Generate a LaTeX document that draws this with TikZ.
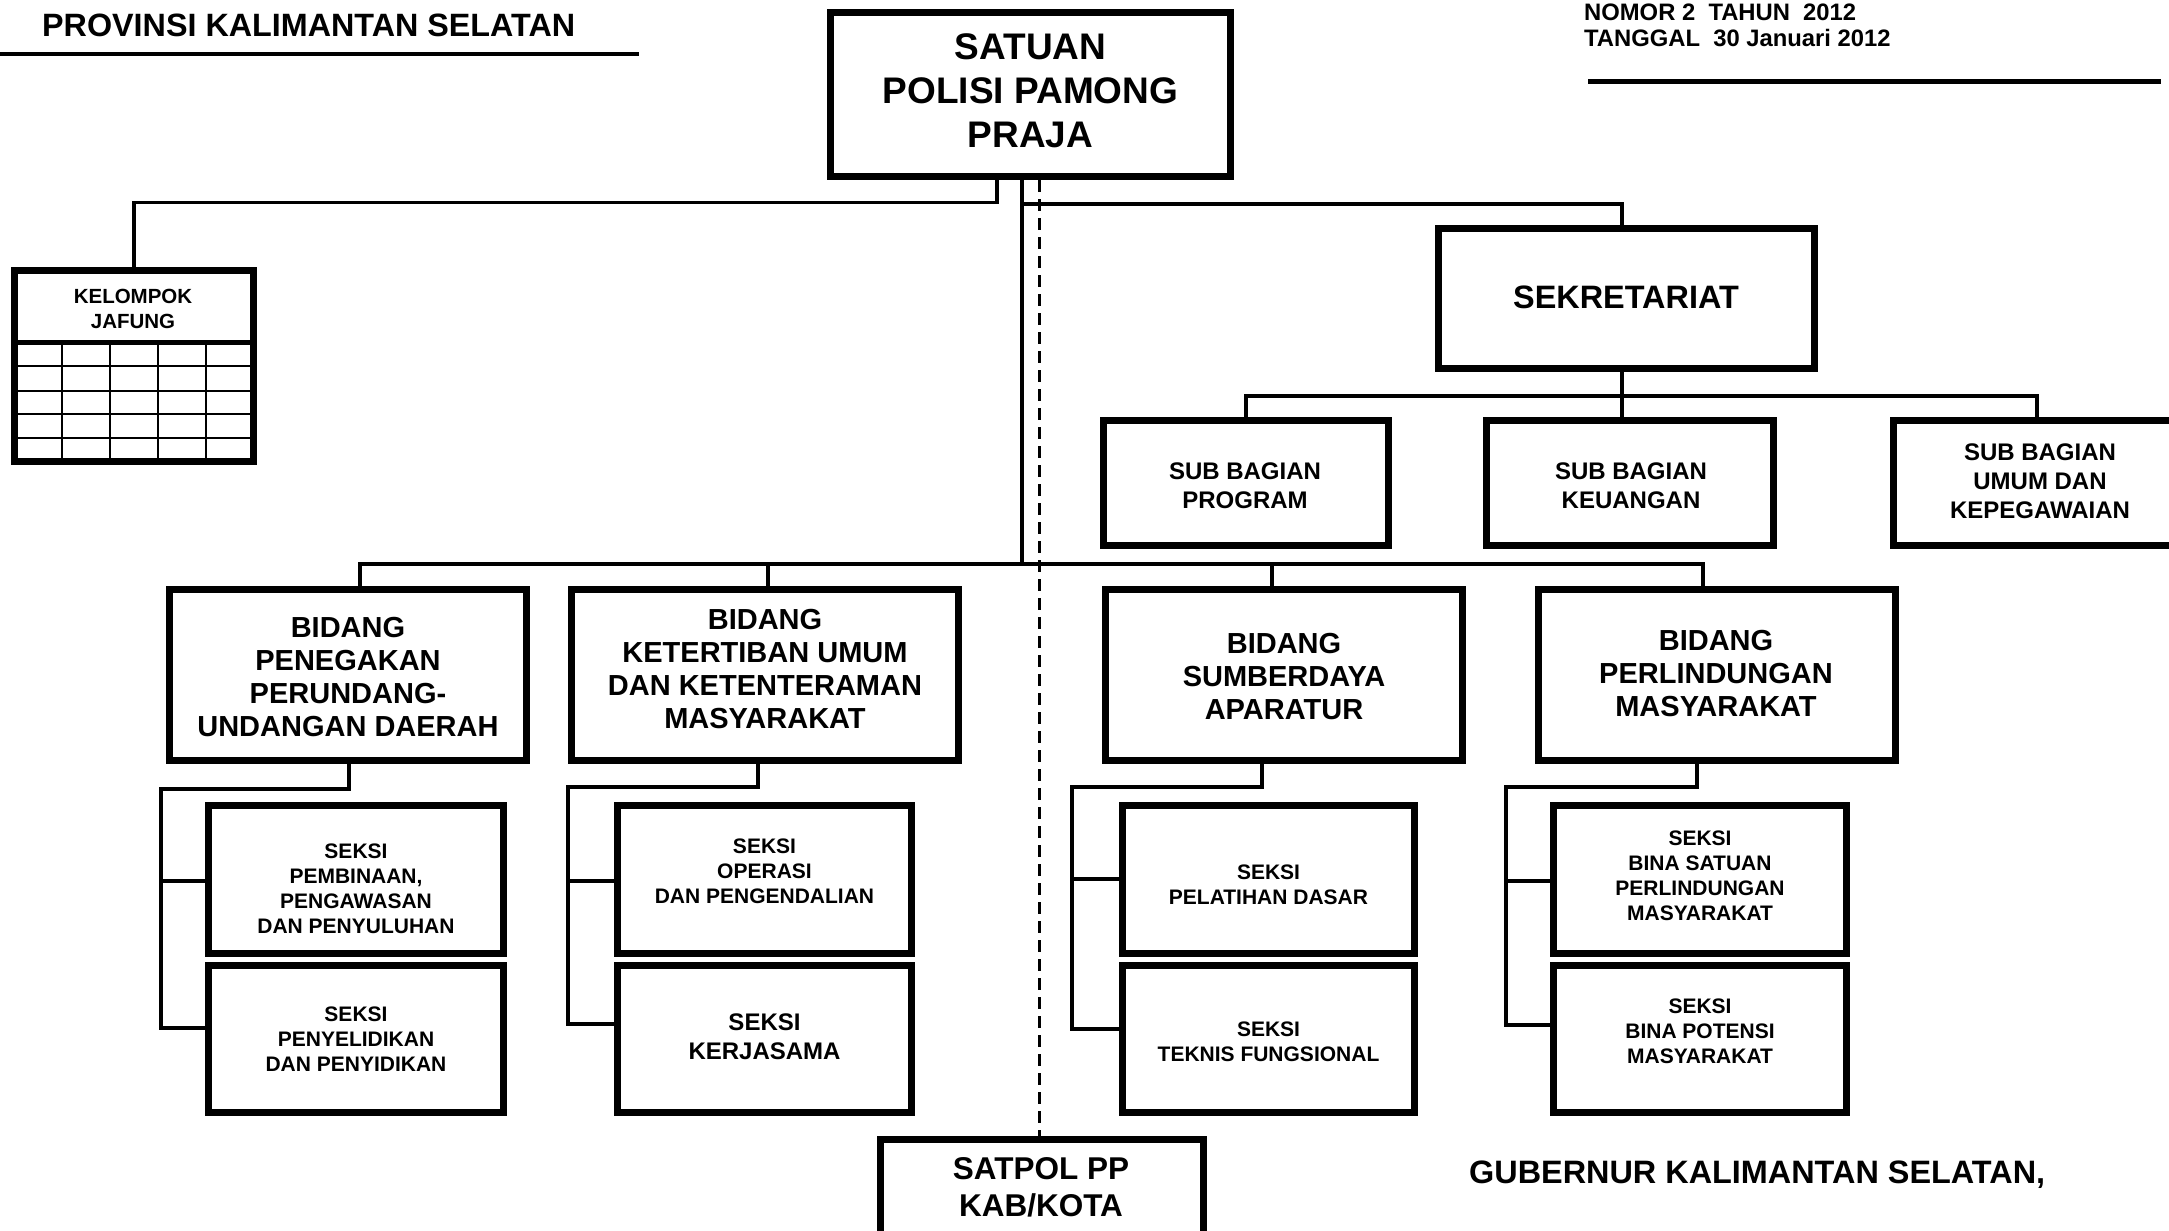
\documentclass[tikz,border=0pt]{standalone}
\usepackage{fontspec}
\setmainfont{Liberation Sans}
\newcommand\myfs[2]{\fontsize{#1}{#2}\selectfont\bfseries}
\begin{document}
\begin{tikzpicture}[x=1pt,y=-1pt,
  box/.style={draw, line width=7pt, inner sep=0pt, rectangle},
  conn/.style={line width=3.5pt},
  lbl/.style={inner sep=0pt, align=center},
  hdr/.style={inner sep=0pt, anchor=base west},
  bidt/.style={lbl, font=\myfs{29}{33}},
  sekt/.style={lbl, font=\myfs{21}{25}},
  subt/.style={lbl, font=\myfs{24}{29}},
  seksibox/.style={box, minimum height=148pt},
  bidbox/.style={box, minimum height=171pt},
]
\useasboundingbox (0,0) rectangle (2169,1231);
\clip (0,0) rectangle (2169,1231);

% header
\node[hdr, font=\myfs{32.3}{36}] (prov) at (42,37) {PROVINSI KALIMANTAN SELATAN};
\draw[line width=4pt] (0,54) -- (639,54);
\node[hdr, font=\myfs{23.8}{26}] (nomor) at (1584,21) {NOMOR 2\ \ TAHUN\ \ 2012};
\node[hdr, font=\myfs{23.8}{26}] (tanggal) at (1584,47) {TANGGAL\ \ 30 Januari 2012};
\draw[line width=5pt] (1588,82) -- (2161,82);
\node[hdr, font=\myfs{32.4}{36}] (gub) at (1469,1183) {GUBERNUR KALIMANTAN SELATAN,};

% head box
\node[box, minimum width=400pt, minimum height=164pt] (satuan) at (1030.5,94.5) {};
\node[lbl, font=\myfs{37}{44}] (satuant) at (1030.5,91) {SATUAN\\POLISI PAMONG\\PRAJA};

% kelompok jafung
\node[box, minimum width=239pt, minimum height=191pt] (kel) at (134,366) {};
\node[lbl, font=\myfs{20.5}{25}] (kelt) at (133,308.5) {KELOMPOK\\JAFUNG};
\draw[line width=5pt] (14.5,342) -- (253.5,342);
\foreach \yy in {366,391,414,438} \draw[line width=1.8pt] (14.5,\yy) -- (253.5,\yy);
\foreach \xx in {62,110,158,206} \draw[line width=1.8pt] (\xx,342) -- (\xx,461.5);

% sekretariat
\node[box, minimum width=376pt, minimum height=140pt] (sek) at (1626.5,298.5) {};
\node[lbl, font=\myfs{32.4}{36}] (sekt) at (1626,297) {SEKRETARIAT};

% sub bagian
\node[box, minimum width=285pt, minimum height=125pt] (sb1) at (1246,483) {};
\node[subt] (sb1t) at (1245,486) {SUB BAGIAN\\PROGRAM};
\node[box, minimum width=287pt, minimum height=125pt] (sb2) at (1630,483) {};
\node[subt] (sb2t) at (1631,486) {SUB BAGIAN\\KEUANGAN};
\node[box, minimum width=287pt, minimum height=125pt] (sb3) at (2037,483) {};
\node[subt] (sb3t) at (2040,481) {SUB BAGIAN\\UMUM DAN\\KEPEGAWAIAN};

% bidang
\node[bidbox, minimum width=357pt] (bid1) at (348,675) {};
\node[bidt] (bid1t) at (348,677) {BIDANG\\PENEGAKAN\\PERUNDANG-\\UNDANGAN DAERAH};
\node[bidbox, minimum width=387pt] (bid2) at (765,675) {};
\node[bidt] (bid2t) at (765,669) {BIDANG\\KETERTIBAN UMUM\\DAN KETENTERAMAN\\MASYARAKAT};
\node[bidbox, minimum width=357pt] (bid3) at (1284,675) {};
\node[bidt] (bid3t) at (1284,676.5) {BIDANG\\SUMBERDAYA\\APARATUR};
\node[bidbox, minimum width=357pt] (bid4) at (1717,675) {};
\node[bidt] (bid4t) at (1716,674) {BIDANG\\PERLINDUNGAN\\MASYARAKAT};

% seksi
\node[seksibox, minimum width=295pt] (s1a) at (356,879.5) {};
\node[sekt] (s1at) at (356,889) {SEKSI\\PEMBINAAN,\\PENGAWASAN\\DAN PENYULUHAN};
\node[seksibox, minimum width=295pt, minimum height=147pt] (s1b) at (356,1039) {};
\node[sekt] (s1bt) at (356,1039) {SEKSI\\PENYELIDIKAN\\DAN PENYIDIKAN};

\node[seksibox, minimum width=294pt] (s2a) at (764.5,879.5) {};
\node[sekt] (s2at) at (764.5,871.5) {SEKSI\\OPERASI\\DAN PENGENDALIAN};
\node[seksibox, minimum width=294pt, minimum height=147pt] (s2b) at (764.5,1039) {};
\node[lbl, font=\myfs{24}{29}] (s2bt) at (764.5,1037) {SEKSI\\KERJASAMA};

\node[seksibox, minimum width=292pt] (s3a) at (1268.5,879.5) {};
\node[sekt] (s3at) at (1268.5,884.5) {SEKSI\\PELATIHAN DASAR};
\node[seksibox, minimum width=292pt, minimum height=147pt] (s3b) at (1268.5,1039) {};
\node[sekt] (s3bt) at (1268.5,1041.5) {SEKSI\\TEKNIS FUNGSIONAL};

\node[seksibox, minimum width=293pt] (s4a) at (1700,879.5) {};
\node[sekt] (s4at) at (1700,875.5) {SEKSI\\BINA SATUAN\\PERLINDUNGAN\\MASYARAKAT};
\node[seksibox, minimum width=293pt, minimum height=147pt] (s4b) at (1700,1039) {};
\node[sekt] (s4bt) at (1700,1031.5) {SEKSI\\BINA POTENSI\\MASYARAKAT};

% satpol pp
\node[box, line width=6.5pt, minimum width=323pt, minimum height=200pt] (satpol) at (1042,1239.5) {};
\node[lbl, font=\myfs{31.5}{37}] (satpolt) at (1041,1187) {SATPOL PP\\KAB/KOTA};

% connectors
\draw[conn] ([xshift=-33.5pt]satuan.south) -- ++(0,22.5) -| (kel.north);
\coordinate (trunk) at (1022,564);
\draw[line width=4pt] ([xshift=-8.5pt]satuan.south) -- (trunk);
\draw[line width=3pt, dash pattern=on 12pt off 7pt] ([xshift=8.5pt]satuan.south) -- ([xshift=-3pt]satpol.north);
\coordinate (sekj) at (1022,204);
\draw[conn] (sekj) -| ([xshift=-4.5pt]sek.north);
\coordinate (sbbar) at (1622,396);
\draw[conn] ([xshift=-4.5pt]sek.south) -- ([xshift=-8pt]sb2.north);
\draw[conn] (sb1.north) -- (sb1.north |- sbbar) -- (sb3.north |- sbbar) -- (sb3.north);

\draw[conn] ([xshift=12pt]bid1.north) -- ([xshift=12pt]bid1.north |- trunk) -- ([xshift=-14pt]bid4.north |- trunk) -- ([xshift=-14pt]bid4.north);
\draw[conn] ([xshift=3pt]bid2.north) -- ([xshift=3pt]bid2.north |- trunk);
\draw[conn] ([xshift=-12pt]bid3.north) -- ([xshift=-12pt]bid3.north |- trunk);

% seksi connectors
\coordinate (c1t) at (161,789); \coordinate (c1b) at (161,1028);
\draw[conn] ([xshift=1pt]bid1.south) |- (c1t) -- (c1b) -- (c1b -| s1b.west);
\draw[conn] (161,881) -- (s1a.west |- 0,881);
\coordinate (c2t) at (568,787); \coordinate (c2b) at (568,1024);
\draw[conn] ([xshift=-7pt]bid2.south) |- (c2t) -- (c2b) -- (c2b -| s2b.west);
\draw[conn] (568,881) -- (s2a.west |- 0,881);
\coordinate (c3t) at (1072,787); \coordinate (c3b) at (1072,1029);
\draw[conn] ([xshift=-22pt]bid3.south) |- (c3t) -- (c3b) -- (c3b -| s3b.west);
\draw[conn] (1072,879) -- (s3a.west |- 0,879);
\coordinate (c4t) at (1506,787); \coordinate (c4b) at (1506,1025);
\draw[conn] ([xshift=-20pt]bid4.south) |- (c4t) -- (c4b) -- (c4b -| s4b.west);
\draw[conn] (1506,881) -- (s4a.west |- 0,881);
\end{tikzpicture}
\end{document}
